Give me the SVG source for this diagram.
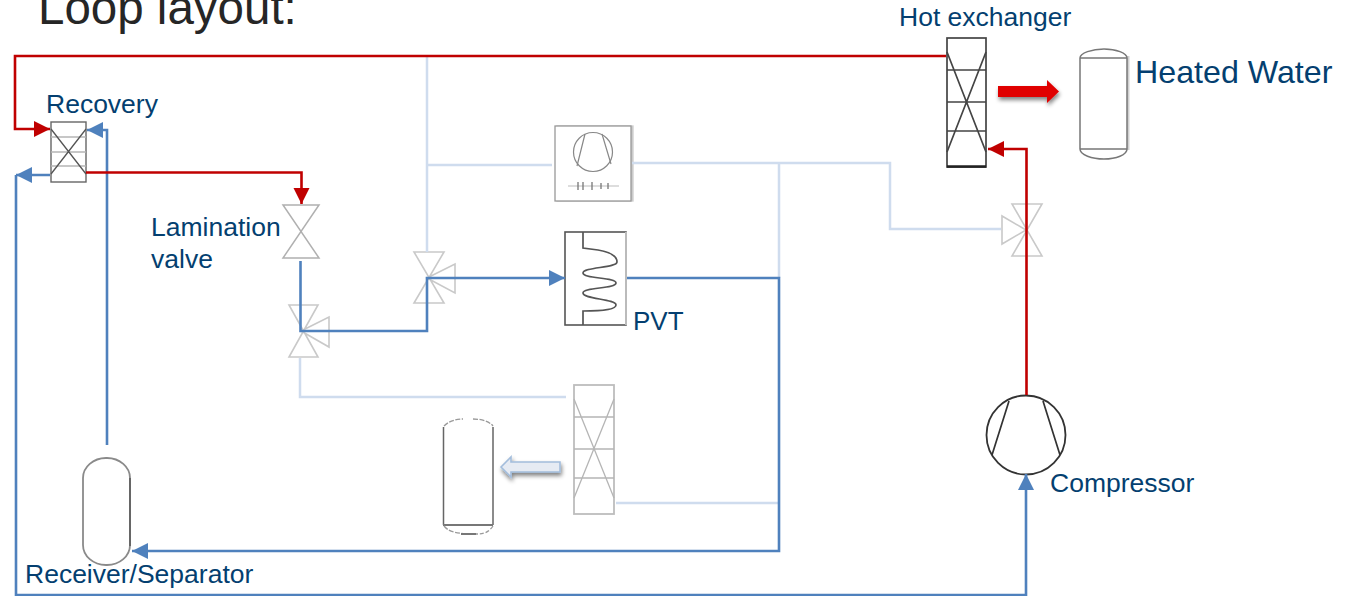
<svg xmlns="http://www.w3.org/2000/svg" width="1346" height="596" viewBox="0 0 1346 596">
<defs>
<style>
text{font-family:"Liberation Sans",Arial,sans-serif;fill:#043f70}
.lb{fill:none;stroke:#cfdcee;stroke-width:2.5}
.b{fill:none;stroke:#4f81bd;stroke-width:2.6;stroke-linejoin:miter}
.r{fill:none;stroke:#c00000;stroke-width:2.6}
.gv{fill:none;stroke:#c9c9c9;stroke-width:1.6}
.dk{fill:none;stroke:#444;stroke-width:1.7}
.md{fill:none;stroke:#777;stroke-width:1.3}
.lg{fill:none;stroke:#b5b5b5;stroke-width:1.3}
</style>
<marker id="ab" markerUnits="userSpaceOnUse" markerWidth="17" markerHeight="17" refX="16" refY="8" orient="auto"><path d="M0 0L16 8L0 16Z" fill="#4f81bd"/></marker>
<marker id="ar" markerUnits="userSpaceOnUse" markerWidth="17" markerHeight="17" refX="16" refY="8" orient="auto"><path d="M0 0L16 8L0 16Z" fill="#c00000"/></marker>
<filter id="sh" x="-20%" y="-40%" width="150%" height="200%"><feGaussianBlur in="SourceAlpha" stdDeviation="2"/><feOffset dx="1" dy="3"/><feComponentTransfer><feFuncA type="linear" slope="0.5"/></feComponentTransfer><feMerge><feMergeNode/><feMergeNode in="SourceGraphic"/></feMerge></filter>
</defs>
<rect width="1346" height="596" fill="#fff"/>
<text x="38" y="24" font-size="47.500" style="fill:#262626">Loop layout:</text>

<g id="recovery">
<rect x="51" y="122" width="35" height="60" fill="none" stroke="#666" stroke-width="1.4"/>
<path class="lg" d="M51 137H86M51 152H86M51 166H86"/>
<path class="md" d="M51 129L86 174M86 129L51 174" style="stroke:#555"/>
<text x="46" y="113" font-size="26.500">Recovery</text>
</g>

<g id="lamination-valve">
<path d="M283 205H319L283 258H319Z" fill="none" stroke="#b0b0b0" stroke-width="1.5"/>
<text font-size="26.500"><tspan x="151" y="236">Lamination</tspan><tspan x="151" y="268">valve</tspan></text>
</g>

<g id="valve-three-left">
<path class="gv" d="M289 305H318L289 357H318ZM301 331L329 317V347Z"/>
</g>
<g id="valve-three-mid">
<path class="gv" d="M414 252H444L414 303H444ZM427 278L455 264V293Z"/>
</g>
<g id="valve-three-right">
<path class="gv" d="M1012 204H1042L1012 256H1042ZM1026 230L1002 216V244Z"/>
</g>

<g id="compressor-panel">
<rect x="555" y="126" width="76" height="75" fill="#fff" stroke="#999" stroke-width="1.3" style="filter:drop-shadow(2px 0 0 #ccc)"/>
<circle cx="593" cy="152" r="19.500" fill="none" stroke="#888" stroke-width="1.2"/>
<path d="M585 134L577 166M602 134L611 164" fill="none" stroke="#888" stroke-width="1.2"/>
<path d="M568 186H619" stroke="#bbb" stroke-width="1.2"/>
<path d="M578 182V190M583 182V190M592 182V190M601 183V189M608 183V189" stroke="#777" stroke-width="1.3"/>
</g>

<g id="pvt">
<rect x="565" y="232" width="61" height="93" fill="#fff" stroke="#555" stroke-width="1.6"/>
<path d="M626 232V325" stroke="#bbb" stroke-width="2"/>
<path d="M583 232V248L598 250C610 252 617 256 617 262C617 268 583 267 583 273C583 279 616 277 616 283C616 289 583 287 583 293C583 299 616 299 616 305C616 310 600 311 583 311V325" fill="none" stroke="#555" stroke-width="1.7"/>
<text x="633" y="330" font-size="26">PVT</text>
</g>

<g id="hot-exchanger">
<rect x="947" y="38" width="39" height="129" fill="#fff" stroke="#444" stroke-width="1.7"/>
<path d="M947 166.500H986" stroke="#222" stroke-width="2.500"/>
<path class="dk" d="M947 70H986M947 102H986M947 131H986M947 52L986 152M986 52L947 152"/>
<text x="899" y="26" font-size="26.500">Hot exchanger</text>
</g>

<g id="heat-arrow">
<path d="M998 86H1047V80L1059 91.500L1047 103V97H998Z" fill="#e00000" filter="url(#sh)"/>
</g>

<g id="hot-tank">
<path d="M1128 56V150" stroke="#d0d0d0" stroke-width="3"/>
<path d="M1080 58V149C1080 155 1092 159 1104 159C1116 159 1127 155 1127 149V58C1127 53 1116 49 1104 49C1092 49 1080 53 1080 58Z" fill="#fff" stroke="#777" stroke-width="1.5"/>
<path d="M1080 58H1127M1080 149H1127" stroke="#777" stroke-width="1.3"/>
<text x="1135" y="83" font-size="32.200">Heated Water</text>
</g>

<g id="cold-exchanger">
<rect x="574" y="385" width="40" height="129" fill="#fff" stroke="#bdbdbd" stroke-width="1.8"/>
<path class="lg" d="M574 417H614M574 449H614M574 478H614M574 399L614 498M614 399L574 498"/>
</g>

<g id="cold-arrow">
<path d="M501 467L511 457V462H560V472H511V477Z" fill="#e6ebf3" stroke="#a3bddc" stroke-width="1.6" filter="url(#sh)"/>
</g>

<g id="cold-tank">
<path d="M443.500 427V525M493 427V525" stroke="#666" stroke-width="1.5"/>
<path d="M443 525H493" stroke="#777" stroke-width="2"/>
<path d="M444 426C449 421 456 419 463 419M473 419C481 419 489 421 493 426M444 526C449 532 456 534 478 534" fill="none" stroke="#999" stroke-width="1.3" stroke-dasharray="5 1.500"/>
<path d="M493 526C489 532 484 534 478 534" fill="none" stroke="#999" stroke-width="1.3" stroke-dasharray="4 2"/>
<path d="M461 534H476" stroke="#777" stroke-width="2"/>
</g>

<g id="receiver">
<rect x="83" y="458" width="47" height="107" rx="23" ry="20" fill="#fff" stroke="#8a8a8a" stroke-width="1.8"/>
<path d="M130 478V546" stroke="#666" stroke-width="2"/>
<text x="25" y="583" font-size="26.500">Receiver/Separator</text>
</g>

<g id="compressor">
<circle cx="1026" cy="435" r="39.500" fill="none" stroke="#333" stroke-width="1.8"/>
<path class="dk" d="M1009 401L992 455M1043 401L1060 455" style="stroke:#333"/>
<text x="1050" y="492" font-size="26.500">Compressor</text>
</g>

<g id="connectors">
<path class="lb" d="M427 56V252M427 165H552M632 163H890V229H1001M779 163V278M300 358V397H566M616 503H779"/>
<path class="b" d="M107 445V130H87" marker-end="url(#ab)"/>
<path class="b" d="M50 175H16" marker-end="url(#ab)"/>
<path class="b" d="M16 175V595H1026V474" marker-end="url(#ab)"/>
<path class="b" d="M300.500 261V331H427V278H565" marker-end="url(#ab)"/>
<path class="b" d="M627 278H779V551H132" marker-end="url(#ab)"/>
<path class="r" d="M946 56H15V129H50" marker-end="url(#ar)"/>
<path class="r" d="M86 172.500H301.500V204" marker-end="url(#ar)"/>
<path class="r" d="M1026.500 395V149H988" marker-end="url(#ar)"/>
</g>
</svg>
